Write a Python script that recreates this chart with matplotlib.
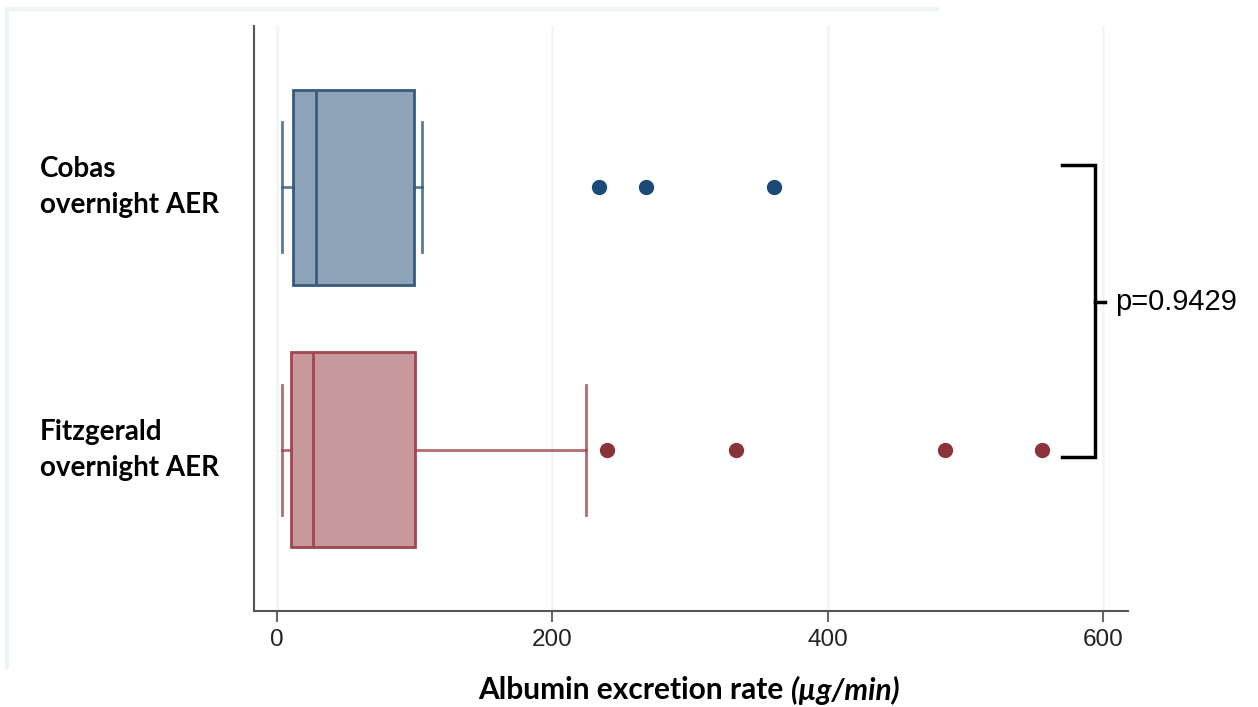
import matplotlib
matplotlib.use("Agg")
import matplotlib.pyplot as plt
import matplotlib.transforms as mtrans
from matplotlib.lines import Line2D

# ---- data ----
groups = ["Fitzgerald\novernight AER", "Cobas\novernight AER"]
whislo = [3.6, 3.6]
q1 = [10.2, 11.6]
med = [26.1, 28.3]
q3 = [100.2, 99.5]
whishi = [224.3, 105.0]
fliers_fitz = [239.3, 333.1, 485.3, 555.3]
fliers_cobas = [234.1, 267.9, 360.9]
fliers = [fliers_fitz, fliers_cobas]
xticks = [0, 200, 400, 600]
p_text = "p=0.9429"
xlabel_main = "Albumin excretion rate "
xlabel_unit = "(µg/min)"

face = ["#c7999c", "#8ea3b7"]
edge = ["#a0464e", "#38597c"]
flier_col = ["#8c323a", "#1c4a78"]

fig = plt.figure(figsize=(12.58, 7.07), dpi=100)
ax = fig.add_axes([254/1258, 1-611/707, (1128-254)/1258, (611-26)/707])

for i in range(2):
    st = dict(whislo=whislo[i], q1=q1[i], med=med[i], q3=q3[i],
              whishi=whishi[i], fliers=fliers[i], label=groups[i])
    ax.bxp([st], positions=[i], vert=False, widths=0.744, patch_artist=True,
           showfliers=True,
           boxprops=dict(facecolor=face[i], edgecolor=edge[i], linewidth=2),
           medianprops=dict(color=edge[i], linewidth=2),
           whiskerprops=dict(color=edge[i], linewidth=2, alpha=0.8),
           capprops=dict(color=edge[i], linewidth=2, alpha=0.8),
           capwidths=0.496,
           flierprops=dict(marker='o', markerfacecolor=flier_col[i],
                           markeredgecolor=flier_col[i], markersize=10))

ax.set_xlim(-16.7, 617.8)
ax.set_ylim(-0.614, 1.614)
ax.set_xticks(xticks)
ax.set_xticklabels([str(t) for t in xticks], fontsize=17.5, color="#222222",
                   family="Liberation Sans")
ax.tick_params(axis='x', length=8, width=1.5, color="#666666", pad=5)
ax.set_yticks([0, 1])
ax.set_yticklabels([])
ax.tick_params(axis='y', length=0)
for x in xticks:
    ax.axvline(x, color="#f0f5f5", linewidth=1.8, zorder=0)
for s in ["top", "right"]:
    ax.spines[s].set_visible(False)
for s in ["left", "bottom"]:
    ax.spines[s].set_color("#555555")
    ax.spines[s].set_linewidth(1.5)

trans = mtrans.blended_transform_factory(fig.transFigure, ax.transData)
for i, g in enumerate(groups):
    ax.text(40/1258, i, g, transform=trans, ha='left', va='center',
            fontsize=20, fontweight='bold', family="Lato", linespacing=1.45,
            clip_on=False)

# x label: bold upright part + bold italic unit, centred as a whole
renderer = fig.canvas.get_renderer()
t1 = fig.text(0, 1-690/707, xlabel_main, fontsize=21.5, fontweight='bold',
              family="Lato", ha='left', va='center')
t2 = fig.text(0, 1-690/707, xlabel_unit, fontsize=21.5, fontweight='bold', style='italic',
              family="Lato", ha='left', va='center')
w1 = t1.get_window_extent(renderer).width
w2 = t2.get_window_extent(renderer).width
x0 = 689 - (w1 + w2) / 2
t1.set_x(x0/1258)
t2.set_x((x0 + w1)/1258)

# bracket
bx0, bx1, bx2 = 570, 593.8, 601.2
ytop, ybot, ymid = 1.084, -0.027, 0.561
ax.plot([bx0, bx1, bx1, bx0], [ytop, ytop, ybot, ybot], color="black", linewidth=2.5,
        clip_on=False, solid_joinstyle='miter')
ax.plot([bx1, bx2], [ymid, ymid], color="black", linewidth=2.5, clip_on=False)
ax.text(1115/1258, ymid, p_text, transform=trans, ha='left', va='center', fontsize=21,
        family="Liberation Sans", clip_on=False)

# faint outer frame
fig.add_artist(Line2D([7/1258, 937/1258], [1-9/707, 1-9/707], transform=fig.transFigure,
                      color="#eef3f3", linewidth=3))
fig.add_artist(Line2D([7/1258, 7/1258], [1-9/707, 1-667/707], transform=fig.transFigure,
                      color="#eef3f3", linewidth=3))

fig.savefig("out.png", dpi=100)
